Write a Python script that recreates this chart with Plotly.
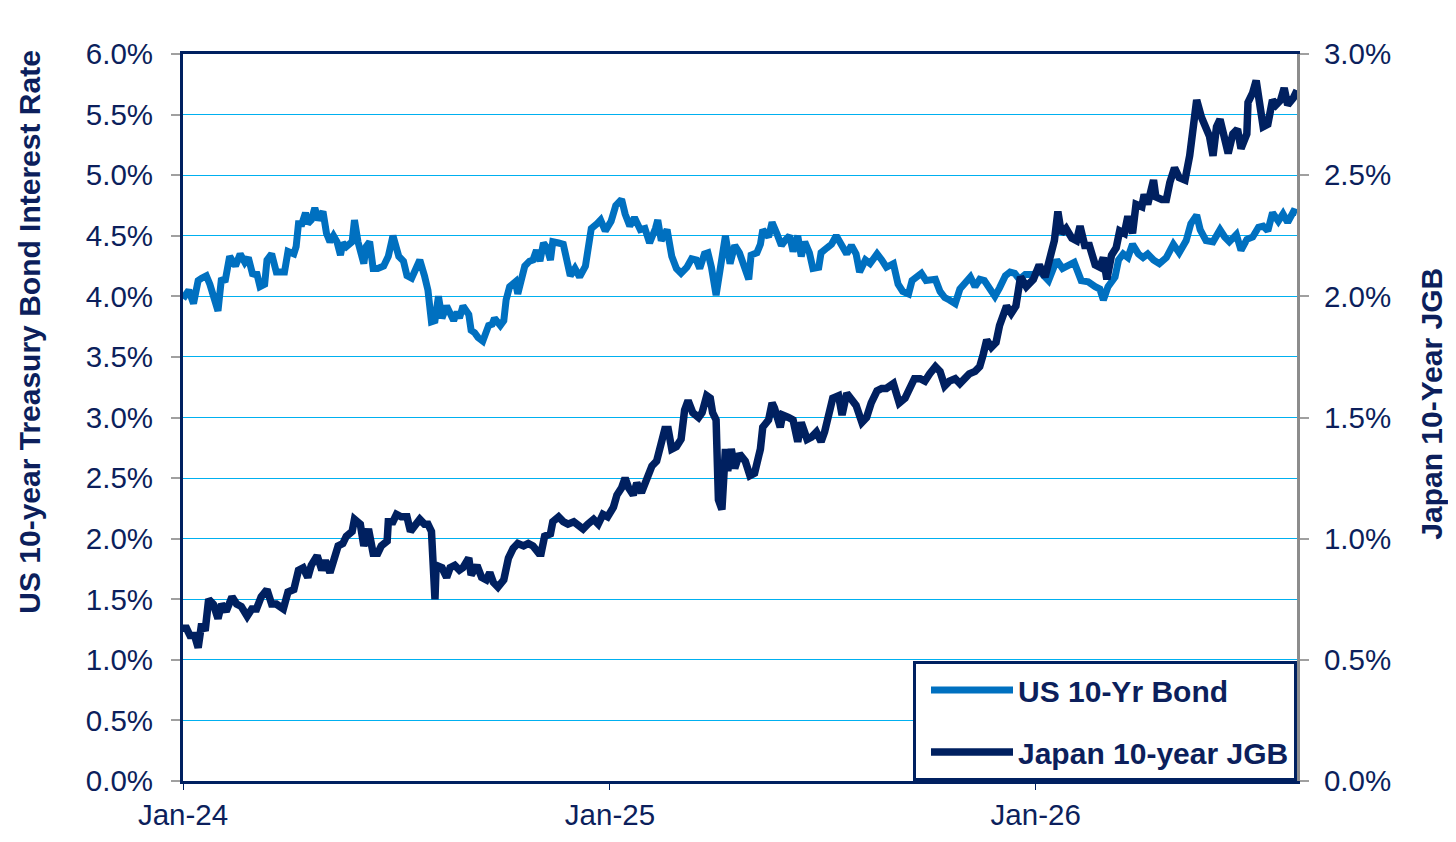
import pandas as pd
import plotly.graph_objects as go

# ---------------- data ----------------
start_date = "2024-01-01"
end_date = "2026-08-13"

# US 10-year Treasury yield (%): observation day offsets from start_date, values
us_day = [0, 5, 9, 13, 16, 20, 23, 30, 33, 36, 40, 45, 49, 53, 56, 60, 63, 66, 70, 72,
          76, 80, 85, 87, 90, 95, 97, 99, 102, 105, 107, 110, 113, 116, 120, 123, 126, 129, 132, 135,
          137, 140, 145, 147, 150, 155, 157, 160, 163, 167, 172, 176, 180, 185, 189, 192, 196, 200, 203, 207,
          210, 213, 216, 219, 222, 226, 229, 232, 235, 237, 240, 245, 247, 250, 253, 257, 262, 265, 267, 272,
          275, 277, 280, 285, 287, 290, 293, 297, 300, 303, 306, 309, 312, 315, 317, 322, 326, 329, 332, 336,
          340, 345, 347, 350, 355, 358, 362, 367, 371, 376, 379, 383, 387, 392, 396, 400, 405, 407, 410, 415,
          419, 423, 427, 432, 436, 440, 443, 447, 450, 453, 457, 462, 465, 469, 473, 477, 480, 485, 487, 492,
          495, 497, 502, 505, 509, 513, 516, 520, 523, 527, 530, 533, 537, 540, 545, 547, 552, 556, 560, 565,
          569, 573, 577, 580, 585, 589, 595, 599, 603, 609, 613, 617, 622, 625, 629, 633, 637, 642, 645, 649,
          653, 657, 662, 666, 670, 675, 679, 683, 687, 692, 696, 700, 705, 709, 713, 717, 722, 729, 734, 742,
          749, 754, 760, 764, 770, 776, 782, 786, 789, 793, 799, 802, 806, 810, 814, 819, 823, 827, 832, 837,
          843, 849, 854, 860, 864, 869, 872, 877, 883, 889, 893, 897, 903, 907, 912, 917, 922, 926, 930, 934,
          939, 943, 947, 952, 955]
us_yield = [3.98, 4.05, 3.94, 4.13, 4.15, 4.17, 4.10, 3.88, 4.15, 4.12, 4.33, 4.25, 4.35, 4.28, 4.32, 4.17, 4.20, 4.08, 4.10, 4.30,
            4.35, 4.20, 4.20, 4.20, 4.37, 4.35, 4.41, 4.60, 4.60, 4.69, 4.60, 4.63, 4.73, 4.63, 4.70, 4.52, 4.45, 4.50, 4.45, 4.34,
            4.44, 4.41, 4.45, 4.63, 4.45, 4.27, 4.41, 4.45, 4.23, 4.23, 4.25, 4.33, 4.50, 4.33, 4.29, 4.17, 4.15, 4.25, 4.30, 4.17,
            4.05, 3.79, 3.80, 4.00, 3.82, 3.92, 3.87, 3.80, 3.87, 3.82, 3.92, 3.85, 3.72, 3.70, 3.66, 3.63, 3.76, 3.77, 3.82, 3.76,
            3.80, 3.97, 4.08, 4.12, 4.02, 4.13, 4.25, 4.29, 4.30, 4.38, 4.29, 4.44, 4.40, 4.30, 4.45, 4.44, 4.43, 4.30, 4.17, 4.23,
            4.16, 4.25, 4.41, 4.56, 4.60, 4.63, 4.54, 4.62, 4.75, 4.80, 4.68, 4.58, 4.65, 4.55, 4.56, 4.44, 4.56, 4.63, 4.46, 4.55,
            4.33, 4.23, 4.19, 4.24, 4.31, 4.30, 4.23, 4.35, 4.36, 4.24, 4.01, 4.35, 4.50, 4.27, 4.42, 4.36, 4.27, 4.14, 4.34, 4.36,
            4.43, 4.55, 4.49, 4.61, 4.52, 4.42, 4.46, 4.50, 4.37, 4.50, 4.33, 4.45, 4.36, 4.23, 4.24, 4.36, 4.40, 4.43, 4.50, 4.42,
            4.35, 4.42, 4.35, 4.20, 4.30, 4.27, 4.35, 4.30, 4.24, 4.27, 4.10, 4.04, 4.02, 4.13, 4.16, 4.19, 4.13, 4.14, 4.14, 4.04,
            3.99, 3.97, 3.94, 4.06, 4.10, 4.16, 4.08, 4.14, 4.13, 4.05, 4.00, 4.07, 4.17, 4.20, 4.19, 4.14, 4.18, 4.18, 4.21, 4.13,
            4.30, 4.23, 4.27, 4.28, 4.13, 4.12, 4.08, 4.06, 3.97, 4.08, 4.16, 4.30, 4.35, 4.32, 4.43, 4.35, 4.32, 4.35, 4.30, 4.27,
            4.32, 4.43, 4.36, 4.46, 4.60, 4.67, 4.55, 4.46, 4.45, 4.55, 4.49, 4.45, 4.51, 4.38, 4.47, 4.49, 4.57, 4.58, 4.54, 4.69,
            4.62, 4.68, 4.61, 4.70, 4.69]

# Japan 10-year JGB yield (%): observation day offsets from start_date, values
jgb_day = [0, 3, 6, 10, 13, 16, 19, 22, 26, 30, 33, 37, 42, 46, 50, 55, 59, 63, 67, 72,
           76, 80, 86, 90, 95, 99, 103, 107, 110, 115, 119, 122, 126, 129, 133, 137, 140, 145, 147, 152,
           155, 159, 163, 167, 170, 175, 176, 180, 183, 187, 192, 195, 199, 203, 207, 210, 213, 216, 217, 222,
           226, 229, 233, 237, 240, 245, 247, 252, 256, 260, 263, 266, 270, 275, 279, 283, 287, 292, 296, 300,
           305, 307, 310, 315, 317, 322, 326, 330, 335, 339, 343, 347, 352, 356, 360, 364, 369, 372, 376, 379,
           382, 386, 389, 393, 397, 402, 406, 409, 413, 416, 419, 423, 427, 430, 433, 437, 442, 445, 449, 452,
           454, 457, 459, 462, 465, 467, 470, 473, 477, 482, 486, 490, 495, 497, 502, 505, 507, 512, 514, 519,
           523, 527, 530, 535, 539, 543, 547, 550, 554, 557, 562, 565, 569, 573, 577, 582, 586, 590, 595, 599,
           603, 609, 612, 614, 619, 623, 627, 632, 636, 640, 645, 649, 653, 657, 662, 666, 670, 674, 679, 683,
           686, 689, 693, 697, 700, 706, 710, 714, 718, 723, 729, 734, 739, 743, 747, 750, 753, 757, 762, 766,
           769, 773, 777, 782, 786, 789, 792, 796, 800, 803, 807, 810, 814, 817, 822, 824, 827, 832, 834, 839,
           843, 846, 850, 854, 859, 863, 866, 869, 873, 877, 880, 883, 886, 889, 892, 896, 900, 904, 907, 912,
           913, 917, 920, 923, 926, 930, 934, 937, 941, 944, 947, 952, 955]
jgb_yield = [0.63, 0.63, 0.60, 0.60, 0.55, 0.65, 0.62, 0.75, 0.73, 0.67, 0.73, 0.70, 0.76, 0.73, 0.72, 0.68, 0.71, 0.71, 0.76, 0.79,
             0.73, 0.73, 0.71, 0.78, 0.79, 0.87, 0.88, 0.84, 0.89, 0.93, 0.87, 0.91, 0.86, 0.92, 0.97, 0.98, 1.01, 1.03, 1.08, 1.06,
             0.97, 1.04, 0.94, 0.94, 0.97, 0.99, 1.07, 1.07, 1.10, 1.09, 1.09, 1.03, 1.06, 1.08, 1.06, 1.06, 1.03, 0.75, 0.89, 0.88,
             0.84, 0.88, 0.89, 0.87, 0.88, 0.92, 0.85, 0.89, 0.84, 0.83, 0.86, 0.82, 0.80, 0.83, 0.92, 0.96, 0.98, 0.97, 0.98, 0.97,
             0.94, 0.94, 1.01, 1.02, 1.07, 1.09, 1.07, 1.06, 1.07, 1.05, 1.04, 1.06, 1.08, 1.06, 1.10, 1.09, 1.13, 1.18, 1.21, 1.25,
             1.21, 1.18, 1.23, 1.19, 1.25, 1.30, 1.32, 1.37, 1.45, 1.45, 1.37, 1.38, 1.41, 1.53, 1.57, 1.52, 1.50, 1.52, 1.59, 1.58,
             1.52, 1.49, 1.16, 1.12, 1.37, 1.28, 1.37, 1.29, 1.35, 1.32, 1.26, 1.27, 1.37, 1.46, 1.49, 1.56, 1.54, 1.46, 1.51, 1.50,
             1.49, 1.40, 1.48, 1.41, 1.42, 1.44, 1.40, 1.44, 1.54, 1.58, 1.59, 1.51, 1.60, 1.58, 1.55, 1.48, 1.50, 1.56, 1.61, 1.62,
             1.62, 1.64, 1.60, 1.56, 1.58, 1.63, 1.66, 1.66, 1.65, 1.68, 1.71, 1.69, 1.63, 1.65, 1.66, 1.64, 1.66, 1.68, 1.69, 1.71,
             1.76, 1.82, 1.79, 1.81, 1.88, 1.96, 1.93, 1.96, 2.08, 2.04, 2.07, 2.13, 2.08, 2.17, 2.23, 2.35, 2.26, 2.28, 2.24, 2.23,
             2.29, 2.21, 2.21, 2.13, 2.12, 2.16, 2.07, 2.17, 2.20, 2.27, 2.26, 2.33, 2.26, 2.38, 2.37, 2.42, 2.38, 2.48, 2.41, 2.40,
             2.40, 2.47, 2.53, 2.49, 2.48, 2.58, 2.73, 2.81, 2.74, 2.70, 2.66, 2.58, 2.70, 2.73, 2.66, 2.59, 2.67, 2.69, 2.61, 2.67,
             2.80, 2.84, 2.89, 2.77, 2.70, 2.71, 2.81, 2.79, 2.81, 2.86, 2.79, 2.82, 2.85]

x_tick_dates = ["2024-01-01", "2025-01-01", "2026-01-01"]
x_tick_labels = ["Jan-24", "Jan-25", "Jan-26"]

us_name = "US 10-Yr Bond"
jgb_name = "Japan 10-year JGB"
left_title = "US 10-year Treasury Bond Interest Rate"
right_title = "Japan 10-Year JGB"

# ---------------- styling ----------------
NAVY = "#002060"
TEXT = "#0c1f5c"
US_BLUE = "#0070C0"
GRID = "#00B0F0"
GRAY = "#A0A0A0"
FONT = "Liberation Sans, Arial, sans-serif"
TICK_SIZE = 29.5
TITLE_SIZE = 30

base = pd.Timestamp(start_date)
us_dates = base + pd.to_timedelta(us_day, unit="D")
jgb_dates = base + pd.to_timedelta(jgb_day, unit="D")

fig = go.Figure()
fig.add_trace(go.Scatter(
    x=us_dates, y=us_yield, mode="lines", name=us_name, legendgroup="us",
    line=dict(color=US_BLUE, width=7), yaxis="y",
))
fig.add_trace(go.Scatter(
    x=jgb_dates, y=jgb_yield, mode="lines", name=jgb_name, legendgroup="jgb",
    line=dict(color=NAVY, width=7.5), yaxis="y2",
))

# the page body has an 8px margin, so the figure is 8px smaller than the window
fig.update_layout(
    width=1448, height=834,
    margin=dict(l=175, r=159, t=46, b=61),
    paper_bgcolor="white", plot_bgcolor="white",
    font=dict(family=FONT, size=TICK_SIZE, color=TEXT),
    showlegend=True,
    legend=dict(
        x=1, y=0, xanchor="right", yanchor="bottom",
        bgcolor="white", bordercolor=NAVY, borderwidth=3,
        font=dict(family=FONT, size=TITLE_SIZE, color=TEXT, weight="bold"),
        itemwidth=82, tracegroupgap=20, traceorder="grouped",
        indentation=10,
    ),
    xaxis=dict(
        type="date", range=[start_date, end_date],
        tickvals=x_tick_dates, ticktext=x_tick_labels,
        ticks="outside", ticklen=6, tickcolor=NAVY, tickwidth=1,
        ticklabelstandoff=0,
        showgrid=False, zeroline=False,
        showline=True, linecolor=NAVY, linewidth=3, mirror=True,
        automargin=False,
        tickfont=dict(family=FONT, size=TICK_SIZE, color=TEXT),
    ),
    yaxis=dict(
        range=[0, 6], dtick=0.5, tick0=0, tickformat=".1f", ticksuffix="%",
        showgrid=True, gridcolor=GRID, gridwidth=1.2, zeroline=False,
        ticks="outside", ticklen=9, tickcolor=GRAY, tickwidth=1.5,
        ticklabelstandoff=12,
        showline=True, linecolor=NAVY, linewidth=3,
        automargin=False,
        tickfont=dict(family=FONT, size=TICK_SIZE, color=TEXT),
    ),
    yaxis2=dict(
        range=[0, 3], dtick=0.5, tick0=0, tickformat=".1f", ticksuffix="%",
        overlaying="y", side="right",
        showgrid=False, zeroline=False,
        ticks="outside", ticklen=9, tickcolor=GRAY, tickwidth=1.5,
        ticklabelstandoff=9,
        showline=True, linecolor="#8C8C8C", linewidth=3,
        automargin=False,
        tickfont=dict(family=FONT, size=TICK_SIZE, color=TEXT),
    ),
    annotations=[
        dict(text=left_title, xref="paper", yref="paper", x=0, y=0.618,
             xshift=-153, xanchor="center", yanchor="middle", textangle=-90,
             showarrow=False, font=dict(family=FONT, size=TITLE_SIZE, color=TEXT, weight="bold")),
        dict(text=right_title, xref="paper", yref="paper", x=1, y=0.519,
             xshift=135, xanchor="center", yanchor="middle", textangle=-90,
             showarrow=False, font=dict(family=FONT, size=TITLE_SIZE, color=TEXT, weight="bold")),
    ],
)

fig.write_html("out.html")
